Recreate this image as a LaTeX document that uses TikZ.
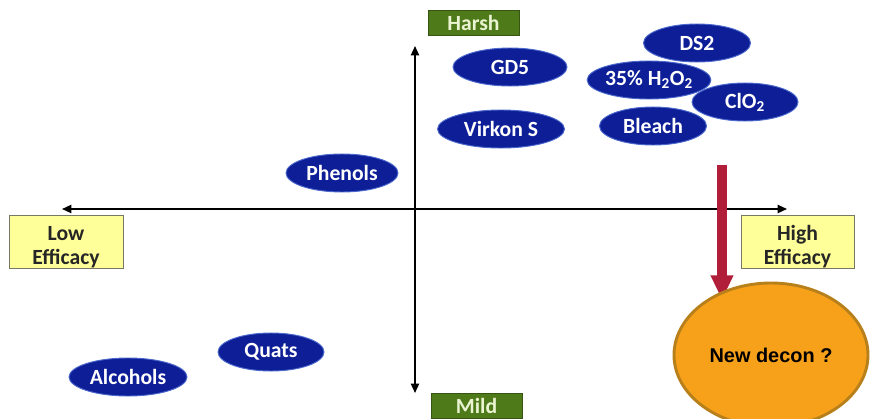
\documentclass[tikz,border=0pt]{standalone}
\usepackage{fontspec}
\setmainfont{Carlito}
\newfontfamily\arialfont{Liberation Sans}
\usetikzlibrary{arrows.meta,shapes.geometric}
\definecolor{chemblue}{RGB}{14,30,150}
\definecolor{chemrim}{RGB}{75,105,205}
\definecolor{levelgreen}{RGB}{78,122,26}
\definecolor{leveltext}{RGB}{234,244,208}
\definecolor{effyellow}{RGB}{255,255,153}
\definecolor{effrim}{RGB}{120,120,100}
\definecolor{deconorange}{RGB}{247,161,26}
\definecolor{deconrim}{RGB}{184,128,26}
\definecolor{pushred}{RGB}{176,30,58}

\begin{document}
\begin{tikzpicture}[x=0.03cm, y=-0.03cm,
    chem/.style={ellipse, draw=chemrim, fill=chemblue, line width=0.8pt, text=white,
        font=\bfseries\fontsize{18.5}{20}\selectfont, inner sep=0pt,
        minimum width=3.21cm, minimum height=1.14cm},
    levelbox/.style={rectangle, draw=levelgreen!70!black, fill=levelgreen, text=leveltext,
        font=\bfseries\fontsize{18.5}{20}\selectfont, inner sep=0pt,
        minimum width=2.73cm, minimum height=0.75cm},
    effbox/.style={rectangle, draw=effrim, fill=effyellow, text=black!85, align=center,
        font=\bfseries\fontsize{18.5}{20.5}\selectfont, inner sep=0pt,
        minimum width=3.42cm, minimum height=1.53cm},
    axis/.style={line width=1.5pt, {Triangle[length=8pt,width=7pt]}-{Triangle[length=8pt,width=7pt]}}]
    \useasboundingbox (0,0) rectangle (871,418);

    %axis
    \coordinate (axleft) at (62,209);
    \coordinate (axright) at (787,209);
    \coordinate (axtop) at (415,46);
    \coordinate (axbottom) at (415,393);
    \draw[axis] (axleft) -- (axright);
    \draw[axis] (axbottom) -- (axtop);

    %axis labels
    \node[levelbox] (harsh) at (473.5,22.5) {Harsh};
    \node[levelbox] (mild) at (476.5,405.5) {Mild};
    \node[effbox] (loweff) at (66,241.5) {\rule{0pt}{22pt}Low\\Efficacy};
    \node[effbox, minimum width=3.39cm] (higheff) at (797.5,241.5) {\rule{0pt}{22pt}High\\Efficacy};

    %disinfectants
    \node[chem, minimum width=3.42cm] (gd5) at (510,67) {GD5};
    \node[chem] (ds2) at (697,43) {DS2};
    \node[chem] (peroxide) at (649,80) {35\% H\textsubscript{2}O\textsubscript{2}};
    \node[chem, minimum width=3.18cm] (clo2) at (745,102) {ClO\textsubscript{2}};
    \node[chem] (bleach) at (653,126) {Bleach};
    \node[chem, minimum width=3.81cm] (virkon) at (501,129) {Virkon S};
    \node[chem, minimum width=3.36cm] (phenols) at (342,173) {Phenols};
    \node[chem, minimum width=3.18cm] (quats) at (271,352) {Quats};
    \node[chem, minimum width=3.54cm] (alcohols) at (128,377) {Alcohols};

    %push towards new decon
    \coordinate (pushtop) at (722,165);
    \coordinate (pushtip) at (722,300);
    \draw[pushred, line width=9pt, -{Triangle[length=21pt,width=18pt]}] (pushtop) -- (pushtip);
    \node[ellipse, draw=deconrim, fill=deconorange, line width=2.5pt, inner sep=0pt,
        minimum width=5.82cm, minimum height=4.32cm,
        font=\arialfont\bfseries\fontsize{17}{20}\selectfont] (newdecon) at (771,355) {New decon ?};

\end{tikzpicture}
\end{document}
